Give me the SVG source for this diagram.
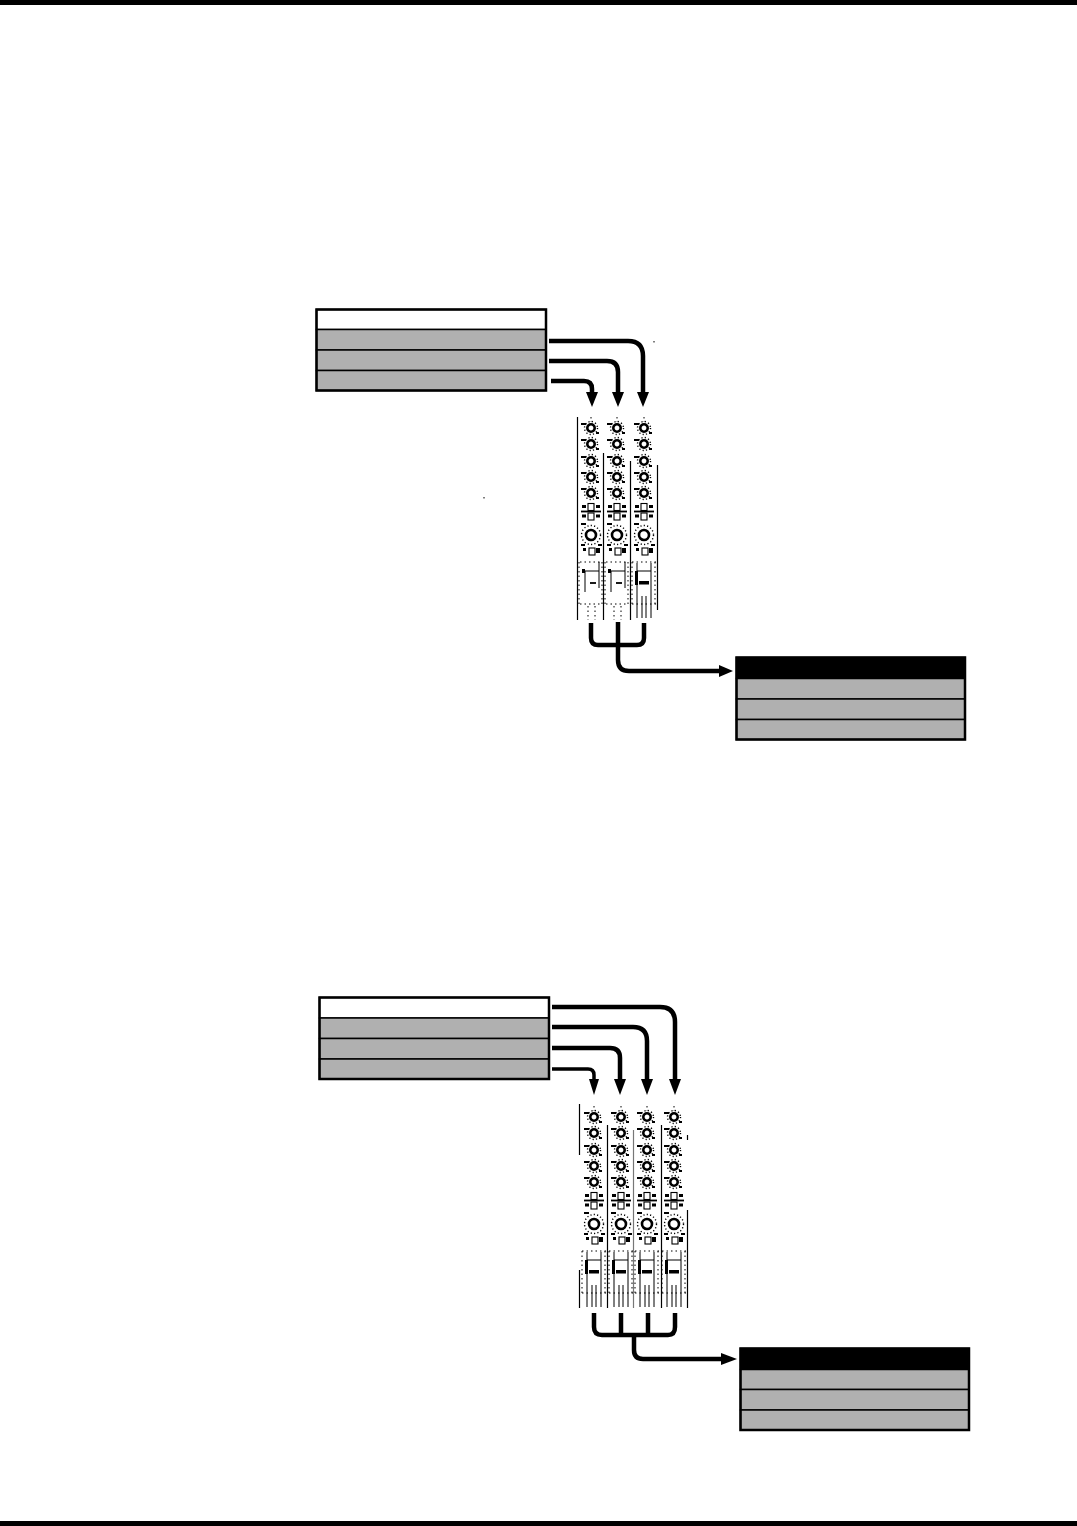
<svg xmlns="http://www.w3.org/2000/svg" width="1077" height="1526" viewBox="0 0 1077 1526">
<style>
.bg{fill:#fff}
.bar{fill:#000}
.cell{fill:#b0b0b0;stroke:#000;stroke-width:1.5}
.head{fill:#fff;stroke:#000;stroke-width:1.5}
.headk{fill:#000;stroke:#000;stroke-width:1.5}
.frame{fill:none;stroke:#000;stroke-width:2.5}
.wire{fill:none;stroke:#000;stroke-width:4.5}
.wire2{fill:none;stroke:#000;stroke-width:3.5}
.head-a{fill:#000}
.div{stroke:#000;stroke-width:1.2;fill:none}
.divg{stroke:#777;stroke-width:1.2;fill:none}
.k{fill:#fff;stroke:#000;stroke-width:2.6}
.ring{fill:none;stroke:#000;stroke-width:1.4;stroke-dasharray:1.2 2.2}
.tick{stroke:#000;stroke-width:1.8;fill:none}
.btn{fill:#fff;stroke:#000;stroke-width:1.1}
.blk{fill:#000}
.dot{stroke:#000;stroke-width:1;fill:none;stroke-dasharray:1.5 3}
.thin{stroke:#000;stroke-width:1;fill:none}
</style>
<defs>
<g id="knob"><circle class="ring" r="6.500"/><circle class="k" r="3.700"/><path class="tick" d="M-10-4H-5M5 5H8"/></g>
<g id="strip">
<path class="dot" d="M0-11V-6"/>
<use href="#knob"/>
<use href="#knob" y="16"/>
<use href="#knob" y="33"/>
<use href="#knob" y="49"/>
<use href="#knob" y="65"/>
<rect class="btn" x="-3" y="75.500" width="6" height="7"/>
<rect class="blk" x="-9" y="77" width="4" height="3"/><rect class="blk" x="5" y="77" width="4" height="3"/>
<path class="tick" d="M-10 83.500H10"/>
<rect class="btn" x="-3" y="85" width="6" height="7"/>
<rect class="blk" x="-9" y="86.500" width="4" height="3"/><rect class="blk" x="5" y="86.500" width="4" height="3"/>
<circle class="ring" cy="107" r="9.500"/><circle class="k" cy="107" r="5"/>
<path class="tick" d="M-10 96H-5M-10 117H-6M7 117H11"/>
<rect class="btn" x="-2" y="120" width="6" height="7"/>
<rect class="blk" x="-8" y="120" width="3" height="3"/><rect class="blk" x="5" y="120" width="4" height="5"/>
<path class="dot" d="M-12 134V176M11 134V176"/>
</g>
<g id="fader-a">
<path class="dot" d="M-11 134H11M-11 176H11M-3 178V192M4 178V192"/>
<path class="thin" d="M-7 143H8M-6 143V164M8 134V160"/>
<rect class="blk" x="-9" y="141" width="3" height="4"/>
<path class="tick" d="M-1 155H5"/>
</g>
<g id="fader-b">
<path class="dot" d="M-12 134H12M-12 176H12"/>
<path class="thin" d="M-7 135V190M7 135V190M-7 143H7M-2 168V190M2 168V190"/>
<rect class="blk" x="-9" y="143" width="3" height="14"/>
<rect class="blk" x="-5" y="153" width="10" height="3.500"/>
</g>
</defs>
<rect class="bg" width="1077" height="1526"/>
<rect class="bar" width="1077" height="5"/>
<rect class="bar" y="1521" width="1077" height="5"/>

<g id="source-1">
<rect class="head" x="316.500" y="309.500" width="229.500" height="20"/>
<rect class="cell" x="316.500" y="329.500" width="229.500" height="20.500"/>
<rect class="cell" x="316.500" y="350" width="229.500" height="20.500"/>
<rect class="cell" x="316.500" y="370.500" width="229.500" height="20"/>
<rect class="frame" x="316.500" y="309.500" width="229.500" height="81"/>
</g>
<g id="dest-1">
<rect class="headk" x="736.500" y="657.500" width="228.500" height="21"/>
<rect class="cell" x="736.500" y="678.500" width="228.500" height="20.500"/>
<rect class="cell" x="736.500" y="699" width="228.500" height="20.500"/>
<rect class="cell" x="736.500" y="719.500" width="228.500" height="20"/>
<rect class="frame" x="736.500" y="657.500" width="228.500" height="82"/>
</g>
<g id="source-2">
<rect class="head" x="319.500" y="997.500" width="229.500" height="20.500"/>
<rect class="cell" x="319.500" y="1018" width="229.500" height="20.500"/>
<rect class="cell" x="319.500" y="1038.500" width="229.500" height="20.500"/>
<rect class="cell" x="319.500" y="1059" width="229.500" height="20"/>
<rect class="frame" x="319.500" y="997.500" width="229.500" height="81.500"/>
</g>
<g id="dest-2">
<rect class="headk" x="740.500" y="1348.500" width="228.500" height="21"/>
<rect class="cell" x="740.500" y="1369.500" width="228.500" height="20"/>
<rect class="cell" x="740.500" y="1389.500" width="228.500" height="20.500"/>
<rect class="cell" x="740.500" y="1410" width="228.500" height="20"/>
<rect class="frame" x="740.500" y="1348.500" width="228.500" height="81.500"/>
</g>

<g id="strips-1">
<path class="div" d="M577.500 417V620M603.500 453V620M630.500 461V620M657.500 465V610"/>
<use href="#strip" x="591" y="428"/><use href="#fader-a" x="591" y="428"/>
<use href="#strip" x="617" y="428"/><use href="#fader-a" x="617" y="428"/>
<use href="#strip" x="644" y="428"/><use href="#fader-b" x="644" y="428"/>
<path class="dot" d="M654 341V343M484 497V499"/>
</g>
<g id="strips-2">
<path class="div" d="M579.500 1104V1155M579.500 1270V1308M607.500 1125V1308M661.500 1125V1308M687.500 1135V1140M687.500 1210V1308"/>
<path class="divg" d="M633.500 1130V1308"/>
<use href="#strip" x="594" y="1117"/><use href="#fader-b" x="594" y="1117"/>
<use href="#strip" x="621" y="1117"/><use href="#fader-b" x="621" y="1117"/>
<use href="#strip" x="647" y="1117"/><use href="#fader-b" x="647" y="1117"/>
<use href="#strip" x="674" y="1117"/><use href="#fader-b" x="674" y="1117"/>
</g>

<g id="connectors">
<path class="wire" d="M549 341H628Q643 341 643 356V395"/>
<path class="wire" d="M549 361H607Q618 361 618 372V395"/>
<path class="wire" d="M551 381H584Q592 381 592 389V395"/>
<path class="head-a" d="M637 392H649L643 407ZM612 392H624L618 407ZM586 392H598L592 407Z"/>
<path class="wire" d="M591 623V638Q591 645 598 645H637Q644 645 644 638V623"/>
<path class="wire" d="M618 622V660Q618 671 629 671H722"/>
<path class="head-a" d="M719 665L733 671L719 677Z"/>
<path class="wire" d="M552 1007H660Q675 1007 675 1022V1084"/>
<path class="wire" d="M552 1027H633Q647 1027 647 1041V1084"/>
<path class="wire" d="M552 1048H610Q620 1048 620 1058V1084"/>
<path class="wire2" d="M552 1069H588Q594 1069 594 1075V1084"/>
<path class="head-a" d="M669 1079H681L675 1095ZM641 1079H653L647 1095ZM614 1079H626L620 1095ZM589 1079H599L594 1095Z"/>
<path class="wire" d="M594 1313V1327Q594 1335 602 1335H668Q675 1335 675 1327V1313M621 1313V1335M648 1313V1335"/>
<path class="wire" d="M634 1335V1350Q634 1359 643 1359H724"/>
<path class="head-a" d="M721 1353L737 1359L721 1365Z"/>
</g>
</svg>
